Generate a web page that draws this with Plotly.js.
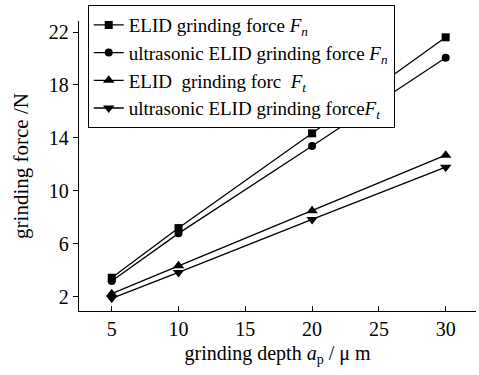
<!DOCTYPE html>
<html><head><meta charset="utf-8">
<script src="https://cdn.plot.ly/plotly-3.0.1.min.js"></script>
<style>body{margin:0;padding:0;background:#fff}#c{width:479px;height:375px}</style>
</head><body><div id="c"></div>
<script>
const depth = [5, 10, 20, 30];
const elidFn = [3.45, 7.2, 14.35, 21.6];
const usFn = [3.2, 6.8, 13.4, 20.05];
const elidFt = [2.25, 4.35, 8.5, 12.7];
const usFt = [1.9, 3.85, 7.85, 11.8];
const names = [
  'ELID grinding force <i>F</i><sub><i>n</i></sub>',
  'ultrasonic ELID grinding force <i>F</i><sub><i>n</i></sub>',
  'ELID&nbsp; grinding forc&nbsp; <i>F</i><sub><i>t</i></sub>',
  'ultrasonic ELID grinding force<i>F</i><sub><i>t</i></sub>'
];
const yTicks = [2, 6, 10, 14, 18, 22];
const xTicks = [5, 10, 15, 20, 25, 30];
const series = [elidFn, usFn, elidFt, usFt];
const symbols = ['square', 'circle', 'triangle-up', 'triangle-down'];
const sizes = [8, 8, 10, 10];
const fam = '"Liberation Serif", "Times New Roman", serif';
const f = (s) => ({family: fam, size: s, color: '#000'});
const traces = series.map((s, i) => ({
  x: depth, y: s, name: names[i], type: 'scatter', mode: 'lines+markers',
  line: {color: '#000', width: 1.3},
  marker: {symbol: symbols[i], size: sizes[i], color: '#000'}
}));
const layout = {
  width: 479, height: 375,
  margin: {l: 79, r: 3, t: 21, b: 64},
  paper_bgcolor: '#fff', plot_bgcolor: '#fff',
  font: f(20),
  showlegend: true,
  legend: {
    x: 0.022, y: 1.055, xanchor: 'left', yanchor: 'top',
    bordercolor: '#000', borderwidth: 1, bgcolor: '#fff',
    font: f(19), tracegroupgap: 0
  },
  xaxis: {
    range: [2.55, 32.27], tickvals: xTicks, ticks: 'inside', ticklen: 5,
    tickcolor: '#000', showline: true, linecolor: '#000', linewidth: 1.2,
    showgrid: false, zeroline: false, tickfont: f(20),
    title: {text: 'grinding depth <i>a</i><sub>p</sub> / μ m', font: f(20), standoff: 6}
  },
  yaxis: {
    range: [0.94, 22.83], tickvals: yTicks, ticks: 'outside', ticklen: 5,
    tickcolor: '#000', showline: true, linecolor: '#000', linewidth: 1.2,
    showgrid: false, zeroline: false, tickfont: f(20),
    title: {text: 'grinding force /N', font: f(21), standoff: 14}
  }
};
Plotly.newPlot('c', traces, layout, {displayModeBar: false, staticPlot: true});
</script></body></html>
